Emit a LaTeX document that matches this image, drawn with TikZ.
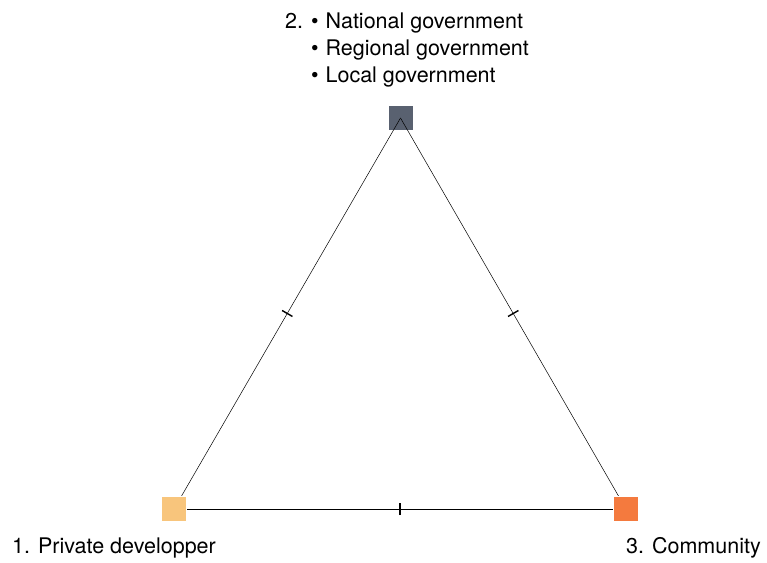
\documentclass[tikz,border=0pt]{standalone}
\usepackage{fontspec}
\setmainfont{TeX Gyre Heros}
\usetikzlibrary{decorations.markings}
\definecolor{govgray}{HTML}{596170}
\definecolor{privorange}{HTML}{F8C57C}
\definecolor{commorange}{HTML}{F47A3E}
\tikzset{
  sq/.style={draw=white, line width=0.8pt, minimum size=25pt, inner sep=0pt},
  edge/.style={draw=black, line width=0.5pt,
    postaction={decorate, decoration={markings, mark=at position 0.5 with {\draw[line width=1.4pt] (0,-6pt) -- (0,6pt);}}}},
  lbl/.style={anchor=base west, inner sep=0pt, font=\fontsize{21.5}{26}\selectfont}
}
\begin{document}
\begin{tikzpicture}[x=1pt,y=-1pt]
\useasboundingbox (0,0) rectangle (767,562);
\node[sq, fill=govgray] (gov) at (400.5,118) {};
\coordinate (g) at (400.5,118);
\coordinate (p) at (174,509);
\coordinate (c) at (626,509);
\path[edge] (g) -- (p);
\path[edge] (g) -- (c);
\path[edge] (p) -- (c);
\node[sq, fill=privorange] (priv) at (p) {};
\node[sq, fill=commorange] (comm) at (c) {};
\node[lbl] (n2) at (285,28) {2.};
\node[lbl] (l1) at (311,28) {\textbullet\hspace{0.32em}National government};
\node[lbl] (l2) at (311,55) {\textbullet\hspace{0.32em}Regional government};
\node[lbl] (l3) at (311,82) {\textbullet\hspace{0.32em}Local government};
\node[lbl] (t1) at (12,553) {1. Private developper};
\node[lbl, anchor=base east] (t3) at (761,553) {3. Community};
\end{tikzpicture}
\end{document}
